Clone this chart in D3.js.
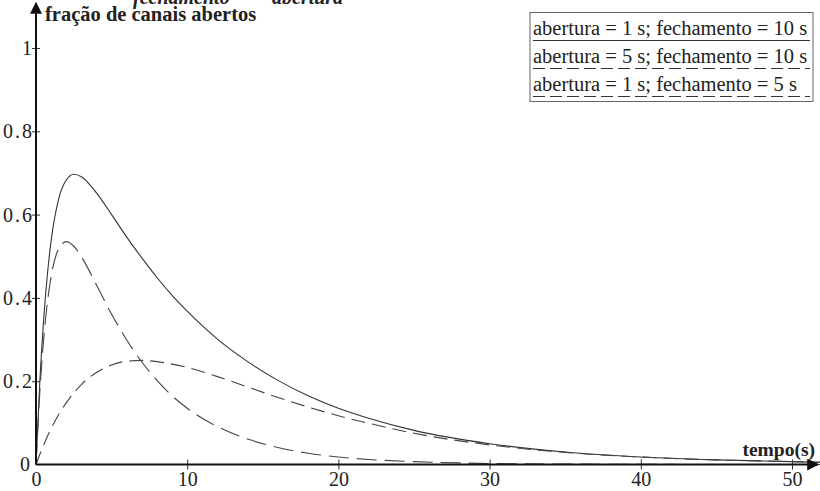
<!DOCTYPE html>
<html>
<head>
<meta charset="utf-8">
<script src="https://cdn.jsdelivr.net/npm/d3@7"></script>
<style>
  body { margin: 0; background: white; }
  svg { display: block; }
  text { font-family: "Liberation Serif", "Times New Roman", "DejaVu Serif", serif; fill: #222; }
</style>
</head>
<body>
<svg width="820" height="491"></svg>
<script>
// time in seconds
var tempo = [0, 0.25, 0.5, 0.75, 1, 1.5, 2, 2.5, 3, 4, 5, 6, 7, 8, 9, 10, 12, 14, 16, 18, 20, 22, 25, 30, 35, 40, 45, 50, 52];

// abertura = 1 s; fechamento = 10 s
var serie1 = [0, 0.197, 0.345, 0.455, 0.537, 0.638, 0.683, 0.697, 0.691, 0.652, 0.600, 0.546, 0.496, 0.449, 0.406, 0.368, 0.301, 0.247, 0.202, 0.165, 0.135, 0.111, 0.082, 0.050, 0.030, 0.018, 0.011, 0.007, 0.005];
// abertura = 5 s; fechamento = 10 s
var serie2 = [0, 0.024, 0.046, 0.067, 0.086, 0.120, 0.148, 0.172, 0.192, 0.221, 0.239, 0.248, 0.250, 0.247, 0.241, 0.233, 0.211, 0.186, 0.161, 0.138, 0.117, 0.099, 0.075, 0.047, 0.029, 0.018, 0.011, 0.007, 0.005];
// abertura = 1 s; fechamento = 5 s
var serie3 = [0, 0.172, 0.298, 0.388, 0.451, 0.518, 0.535, 0.524, 0.499, 0.431, 0.361, 0.299, 0.246, 0.202, 0.165, 0.135, 0.091, 0.061, 0.041, 0.027, 0.018, 0.012, 0.007, 0.0025, 0.001, 0.0003, 0.0001, 0, 0];

var legendas = ["abertura = 1 s; fechamento = 10 s",
                "abertura = 5 s; fechamento = 10 s",
                "abertura = 1 s; fechamento = 5 s"];

var xTicks = [0, 10, 20, 30, 40, 50];
var yTicks = [0.2, 0.4, 0.6, 0.8, 1];

var svg = d3.select('svg');
var serif = '"Liberation Serif", "Times New Roman", serif';

// scales
var x = d3.scaleLinear().domain([0, 50]).range([36, 792]);
var y = d3.scaleLinear().domain([0, 1]).range([464.5, 48]);

// arrow head
svg.append('defs').append('marker')
    .attr('id', 'seta')
    .attr('viewBox', '0 0 10 10')
    .attr('refX', 9).attr('refY', 5)
    .attr('markerWidth', 6).attr('markerHeight', 6)
    .attr('markerUnits', 'strokeWidth')
    .attr('orient', 'auto')
  .append('path')
    .attr('d', 'M0,0 L10,5 L0,10 Z')
    .attr('fill', '#111');

// top cut-off italic labels
svg.append('text')
    .attr('x', 133).attr('y', 4)
    .style('font-family', serif)
    .style('font-size', '20px').style('font-weight', 'bold').style('font-style', 'italic')
    .text('fechamento');
svg.append('text')
    .attr('x', 272).attr('y', 4)
    .style('font-family', serif)
    .style('font-size', '20px').style('font-weight', 'bold').style('font-style', 'italic')
    .text('abertura');

// axes
var xAxis = d3.axisBottom(x).tickValues(xTicks).tickSize(0).tickFormat(d3.format('d'));
var gx = svg.append('g')
    .attr('transform', 'translate(0,' + y(0) + ')')
    .call(xAxis);
gx.select('.domain').remove();
gx.selectAll('.tick text')
    .attr('dy', 0).attr('y', 21)
    .style('font-size', '20px').style('font-family', serif).attr('fill', '#222');
gx.selectAll('.tick').filter(function(d) { return d > 0; }).append('line')
    .attr('y1', -5).attr('y2', 5).attr('stroke', '#333');

var yAxis = d3.axisLeft(y).tickValues(yTicks).tickSize(0).tickFormat(function(d) { return d === 1 ? '1' : d3.format('.1f')(d); });
var gy = svg.append('g')
    .attr('transform', 'translate(' + x(0) + ',0)')
    .call(yAxis);
gy.select('.domain').remove();
gy.selectAll('.tick text')
    .attr('x', -2).attr('dy', '0.33em')
    .style('font-size', '20px').style('letter-spacing', '2px')
    .style('font-family', serif).attr('fill', '#222');
gy.selectAll('.tick').append('line')
    .attr('x1', -4).attr('x2', 4).attr('stroke', '#333');

// zero label
svg.append('text')
    .attr('x', x(0) - 6).attr('y', y(0)).attr('dy', '0.33em')
    .attr('text-anchor', 'end')
    .style('font-family', serif)
    .style('font-size', '20px')
    .text('0');

// curves
var linha = d3.line()
    .x(function(d, i) { return x(tempo[i]); })
    .y(function(d) { return y(d); })
    .curve(d3.curveMonotoneX);

svg.append('path').datum(serie1)
    .attr('d', linha).attr('fill', 'none')
    .attr('stroke', '#333').attr('stroke-width', 1.1);
svg.append('path').datum(serie2)
    .attr('d', linha).attr('fill', 'none')
    .attr('stroke', '#444').attr('stroke-width', 1.1)
    .attr('stroke-dasharray', '14,7');
svg.append('path').datum(serie3)
    .attr('d', linha).attr('fill', 'none')
    .attr('stroke', '#444').attr('stroke-width', 1.1)
    .attr('stroke-dasharray', '20,8');

// axis lines with arrows
svg.append('line')
    .attr('x1', x(0)).attr('y1', y(0)).attr('x2', 818).attr('y2', y(0))
    .attr('stroke', '#111').attr('stroke-width', 2)
    .attr('marker-end', 'url(#seta)');
svg.append('line')
    .attr('x1', x(0)).attr('y1', y(0)).attr('x2', x(0)).attr('y2', 3)
    .attr('stroke', '#111').attr('stroke-width', 2)
    .attr('marker-end', 'url(#seta)');

// axis titles
svg.append('text')
    .attr('x', 45).attr('y', 21)
    .style('font-family', serif)
    .style('font-size', '20.5px').style('font-weight', 'bold')
    .text('fração de canais abertos');
svg.append('text')
    .attr('x', 815).attr('y', 456)
    .attr('text-anchor', 'end')
    .style('font-family', serif)
    .style('font-size', '19.5px').style('font-weight', 'bold')
    .text('tempo(s)');

// legend
var leg = svg.append('g');
leg.append('rect')
    .attr('x', 530).attr('y', 12.5).attr('width', 283).attr('height', 89)
    .attr('fill', 'white').attr('stroke', '#666').attr('stroke-width', 1);
var dashes = [null, '12,5', '12,5'];
legendas.forEach(function(t, i) {
    var base = 35 + i * 28;
    leg.append('text')
        .attr('x', 533).attr('y', base)
        .style('font-family', serif)
        .style('font-size', '20.5px')
        .text(t);
    leg.append('line')
        .attr('x1', 533).attr('x2', 810)
        .attr('y1', base + 5.5).attr('y2', base + 5.5)
        .attr('stroke', '#333').attr('stroke-width', 1.1)
        .attr('stroke-dasharray', dashes[i]);
});
</script>
</body>
</html>
